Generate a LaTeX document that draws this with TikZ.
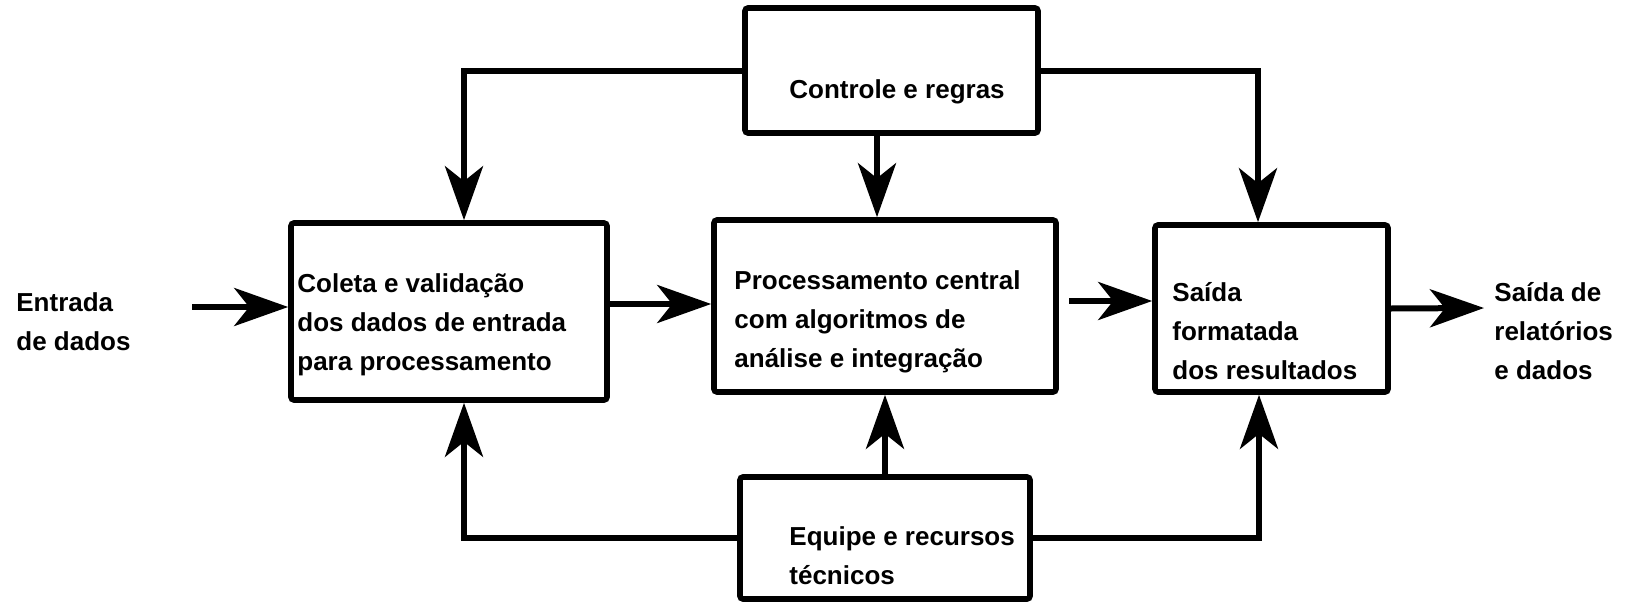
\documentclass[tikz,border=0pt]{standalone}
\usepackage{fontspec}
\setmainfont{Liberation Sans}
\usetikzlibrary{arrows.meta}
\begin{document}
\begin{tikzpicture}[x=0.5pt,y=-0.5pt,
  blk/.style={draw=black,line width=2.8pt,rounded corners=1.5pt,fill=white,inner sep=0pt},
  arr/.style={line width=3pt,-{Stealth[length=27pt,width=19pt,inset=7.5pt]}},
  lbl/.style={anchor=west,align=left,inner sep=0pt,font=\fontsize{13}{19.5}\selectfont\bfseries}]
\useasboundingbox (0,0) rectangle (1627,605);
% boxes
\node[blk,minimum width=146.5pt,minimum height=62.5pt] (top) at (891.5,70.5) {};
\node[blk,minimum width=158pt,minimum height=88.5pt] (b1) at (449,311.5) {};
\node[blk,minimum width=171pt,minimum height=86pt] (b2) at (885,306) {};
\node[blk,minimum width=116.5pt,minimum height=83.5pt] (b3) at (1271.5,308.5) {};
\node[blk,minimum width=145pt,minimum height=61pt] (bot) at (885,538) {};
% texts
\node[lbl] (ttop) at (789,92) {Controle e regras};
\node[lbl] (t1) at (297,325) {Coleta e validação\\dos dados de entrada\\para processamento};
\node[lbl] (t2) at (734,322) {Processamento central\\com algoritmos de\\análise e integração};
\node[lbl] (t3) at (1172,331) {Saída\\formatada\\dos resultados};
\node[lbl] (tbot) at (789,556) {Equipe e recursos\\técnicos};
\node[lbl] (tin) at (16,322) {Entrada\\de dados};
\node[lbl] (tout) at (1494,331) {Saída de\\relatórios\\e dados};
% free ends
\coordinate (in) at (192,307);
\coordinate (s23) at (1069,301);
\coordinate (out) at (1484,308);
% connectors
\draw[arr] (top.west) -| ([xshift=7.5pt]b1.north);
\draw[arr] ([xshift=-4pt]b2.north |- top.south) -- ([xshift=-4pt]b2.north);
\draw[arr] (top.east) -| ([xshift=-6.75pt]b3.north);
\draw[arr] (bot.west) -| ([xshift=7.5pt]b1.south);
\draw[arr] (bot.north) -- (b2.south);
\draw[arr] (bot.east) -| ([xshift=-6.25pt]b3.south);
\draw[arr] (in) -- (in -| b1.west);
\draw[arr] ([yshift=3.75pt]b1.east) -- ([yshift=3.75pt]b1.east -| b2.west);
\draw[arr] (s23) -- (s23 -| b3.west);
\draw[arr] (b3.east) -- (out);
\end{tikzpicture}
\end{document}
